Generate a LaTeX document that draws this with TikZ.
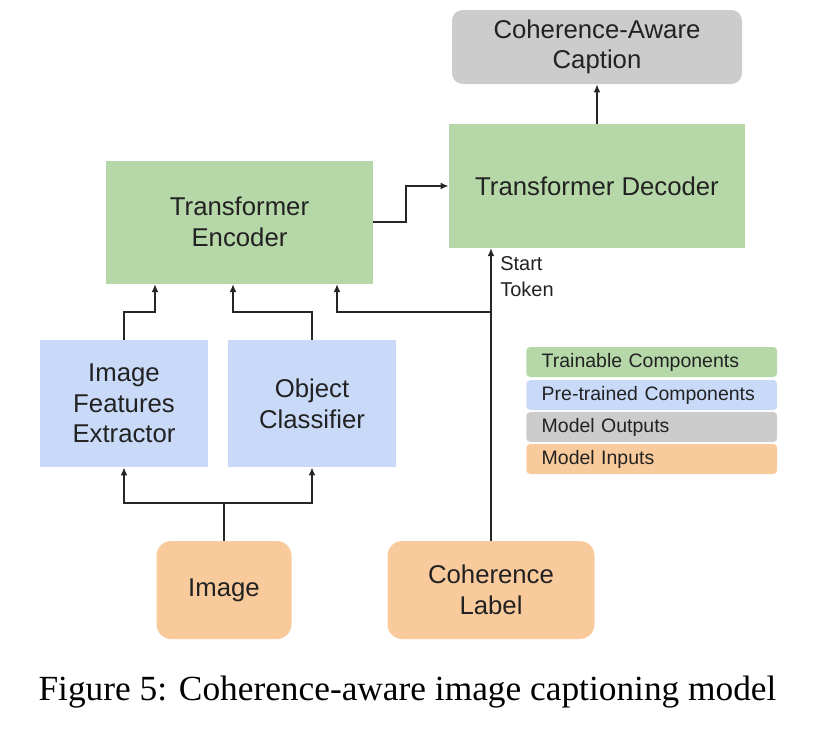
\documentclass[tikz,border=0pt]{standalone}
\usepackage{fontspec}
\setmainfont{Liberation Sans}
\newfontfamily\capfont{Liberation Serif}
\usetikzlibrary{arrows.meta}
\definecolor{cgreen}{HTML}{B6D7A8}
\definecolor{cblue}{HTML}{C9DAF8}
\definecolor{cgray}{HTML}{CCCCCC}
\definecolor{corange}{HTML}{F9CB9C}
\definecolor{ctext}{HTML}{222222}
\begin{document}
\begin{tikzpicture}[x=0.75pt,y=-0.75pt,
  box/.style={inner sep=0pt,align=center,text=ctext,font=\fontsize{19.3}{23}\selectfont},
  legrow/.style={inner xsep=11.6pt,inner ysep=0pt,text width=165pt,align=left,minimum height=22.5pt,rounded corners=3pt,
     text=ctext,font=\fontsize{14.6}{17}\selectfont,anchor=west},
  conn/.style={line width=1.4pt,draw=black!85},
  arr/.style={conn,-{Latex[length=6pt,width=5pt]}}]
\useasboundingbox (0,0) rectangle (814,732);
% boxes
\node[box,fill=cgray,rounded corners=8pt,minimum width=217.5pt,minimum height=55.5pt] (cap) at (597,47) {Coherence-Aware\\Caption};
\node[box,fill=cgreen,minimum width=222pt,minimum height=93pt] (dec) at (597,186) {Transformer Decoder};
\node[box,fill=cgreen,minimum width=200.25pt,minimum height=92.25pt] (enc) at (239.5,222) {Transformer\\Encoder};
\node[box,fill=cblue,minimum width=126pt,minimum height=95.25pt] (ife) at (124,403.5) {Image\\Features\\Extractor};
\node[box,fill=cblue,minimum width=126pt,minimum height=95.25pt] (oc) at (312,403.5) {Object\\Classifier};
\node[box,fill=corange,rounded corners=11pt,minimum width=101.25pt,minimum height=73.5pt] (img) at (224,590) {Image};
\node[box,fill=corange,rounded corners=11pt,minimum width=155.25pt,minimum height=73.5pt] (coh) at (491,590) {Coherence\\Label};
% legend
\node[legrow,fill=cgreen] (lg1) at (526,362) {Trainable Components};
\node[legrow,fill=cblue] (lg2) at (526,395) {Pre-trained Components};
\node[legrow,fill=cgray] (lg3) at (526,427) {Model Outputs};
\node[legrow,fill=corange] (lg4) at (526,459) {Model Inputs};
% coordinates
\coordinate (jimg) at (224,503);
\coordinate (jcoh) at (491,312);
% connectors
\draw[arr] (enc.east) -- ++(33,0) |- (dec.west);
\draw[arr] (dec.north) -- (cap.south);
\draw[arr] (coh.north) -- (491,248);
\draw[arr] (jcoh) -| (337,284);
\draw[arr] (ife.north) |- (155,312) -- (155,284);
\draw[arr] (oc.north) |- (233,312) -- (233,284);
\draw[conn] (img.north) -- (jimg);
\draw[arr] (jimg) -| (ife.south);
\draw[arr] (jimg) -| (oc.south);
% start token label
\node[anchor=north west,inner sep=0pt,align=left,text=ctext,font=\fontsize{15}{19.5}\selectfont] (st) at (500,256) {Start\\Token};
% figure caption
\node[inner sep=0pt,font=\capfont\fontsize{26.5}{30}\selectfont] (figcap) at (407.5,692) {Figure 5: Coherence-aware image captioning model};
\end{tikzpicture}
\end{document}
